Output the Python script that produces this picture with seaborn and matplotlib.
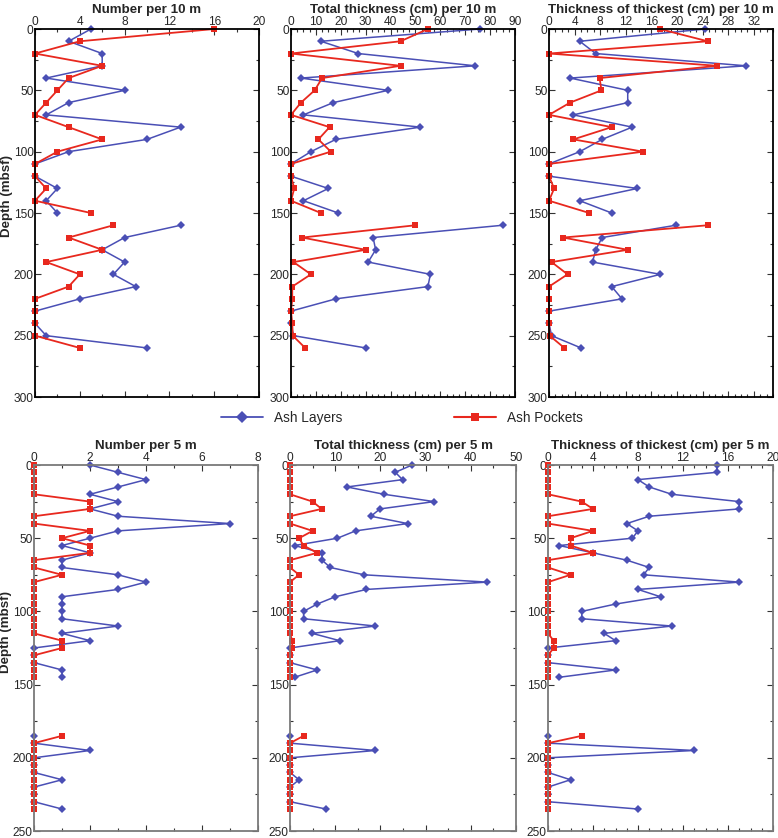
import numpy as np
import pandas as pd
import seaborn as sns
import matplotlib.pyplot as plt
from matplotlib.lines import Line2D
from matplotlib.ticker import MultipleLocator

# depth intervals (mbsf)
depth_10m = list(range(0, 261, 10))
depth_5m = list(range(0, 146, 5)) + list(range(185, 236, 5))

# ---- per 10 m ----
num10_layers = [5, 3, 6, 6, 1, 8, 3, 1, 13, 10, 3, 0, 0, 2, 1, 2, 13, 8, 6, 8, 7, 9, 4, 0, 0, 1, 10]
num10_pockets = [16, 4, 0, 6, 3, 2, 1, 0, 3, 6, 2, 0, 0, 1, 0, 5, 7, 3, 6, 1, 4, 3, 0, 0, 0, 0, 4]
tot10_layers = [76, 12, 27, 74, 4, 39, 17, 5, 52, 18, 8, 0, 0, 15, 5, 19, 85, 33, 34, 31, 56, 55, 18, 0, 0, 1, 30]
tot10_pockets = [55, 44, 0, 44, 12.5, 9.5, 4, 0, 15.5, 11, 16, 0, 0, 1.3, 0, 12, 50, 4.5, 30, 1, 8, 0.5, 0.5, 0, 0.5, 0.7, 5.7]
thick10_layers = [24.4, 4.8, 7.3, 30.8, 3.3, 12.3, 12.3, 3.8, 13, 8.3, 4.8, 0, 0, 13.8, 4.8, 9.8, 19.8, 8.3, 7.3, 6.8, 17.4, 9.8, 11.4, 0, 0, 0.4, 5]
thick10_pockets = [17.3, 24.8, 0, 26.3, 7.9, 8.2, 3.3, 0, 9.8, 3.8, 14.7, 0, 0, 0.8, 0, 6.3, 24.8, 2.2, 12.3, 0.4, 2.9, 0, 0, 0, 0, 0.1, 2.4]

# ---- per 5 m ----
num5_layers = [2, 3, 4, 3, 2, 3, 2, 3, 7, 3, 2, 1, 2, 1, 1, 3, 4, 3, 1, 1, 1, 1, 3, 1, 2, 0, 0, 0, 1, 1,
               0, 0, 2, 0, 0, 0, 1, 0, 0, 0, 1]
num5_pockets = [0, 0, 0, 0, 0, 2, 2, 0, 0, 2, 1, 2, 2, 0, 0, 1, 0, 0, 0, 0, 0, 0, 0, 0, 1, 1, 0, 0, 0, 0,
                1, 0, 0, 0, 0, 0, 0, 0, 0, 0, 0]
tot5_layers = [27, 23.3, 24.9, 12.6, 20.8, 31.9, 19.9, 17.9, 26, 14.5, 10.5, 1, 7.1, 7.1, 8.9, 16.4, 43.6, 16.9,
               10, 6, 3, 3, 18.9, 4.9, 11, 0, 0, 0, 6, 1,
               0, 0, 18.9, 0, 0, 0, 2, 0, 0, 0, 8]
tot5_pockets = [0, 0, 0, 0, 0, 5, 7, 0, 0, 5, 2, 3, 6, 0, 0, 2, 0, 0, 0, 0, 0, 0, 0, 0, 0.5, 0.5, 0, 0, 0, 0,
                3, 0, 0, 0, 0, 0, 0, 0, 0, 0, 0]
thick5_layers = [15, 15, 8, 9, 11, 17, 17, 9, 7, 8, 7.5, 1, 4, 7, 9, 8.5, 17, 8, 10, 6, 3, 3, 11, 5, 6, 0, 0, 0, 6, 1,
                 0, 0, 13, 0, 0, 0, 2, 0, 0, 0, 8]
thick5_pockets = [0, 0, 0, 0, 0, 3, 4, 0, 0, 4, 2, 2, 4, 0, 0, 2, 0, 0, 0, 0, 0, 0, 0, 0, 0.5, 0.5, 0, 0, 0, 0,
                  3, 0, 0, 0, 0, 0, 0, 0, 0, 0, 0]

blue = "#4a4fb5"
red = "#e8281e"

sns.set_style("ticks")
plt.rcParams["font.family"] = ["Liberation Sans", "DejaVu Sans"]

fig = plt.figure(figsize=(7.78, 8.38), dpi=100)
W, H = 778, 838


def add_panel(left, top, width, height):
    return fig.add_axes([left / W, 1 - (top + height) / H, width / W, height / H])


def draw(ax, depth, layers, pockets, title, xmax, xmajor, xminor, ymax, spine_col, ylabel=False):
    seg = [0 if d < 160 else 1 for d in depth]
    df = pd.DataFrame({"depth": depth, "layers": layers, "pockets": pockets, "seg": seg})
    sns.lineplot(data=df, x="layers", y="depth", units="seg", estimator=None, sort=False, orient="y",
                 color=blue, marker="D", markersize=4.5, markeredgewidth=0, linewidth=1.1,
                 legend=False, ax=ax, clip_on=False)
    sns.lineplot(data=df, x="pockets", y="depth", units="seg", estimator=None, sort=False, orient="y",
                 color=red, marker="s", markersize=4.3, markeredgewidth=0, linewidth=1.3,
                 legend=False, ax=ax, clip_on=False)
    ax.set_xlim(0, xmax)
    ax.set_ylim(ymax, 0)
    ax.xaxis.set_major_locator(MultipleLocator(xmajor))
    ax.xaxis.set_minor_locator(MultipleLocator(xminor))
    ax.yaxis.set_major_locator(MultipleLocator(50))
    ax.yaxis.set_minor_locator(MultipleLocator(25))
    ax.tick_params(which="both", direction="in", top=True, bottom=True, left=True, right=True,
                   labeltop=True, labelbottom=False, labelsize=8.6, pad=1, width=0.8, color="#333333")
    ax.tick_params(which="major", length=4)
    ax.tick_params(which="minor", length=2.5)
    for sp in ax.spines.values():
        sp.set_color(spine_col)
        sp.set_linewidth(1.3)
    ax.set_xlabel("")
    if ylabel:
        ax.set_ylabel("Depth (mbsf)", fontsize=9.6, fontweight="bold")
        ax.yaxis.set_label_coords(-0.097, 0.545)
    else:
        ax.set_ylabel("")
    ax.set_title(title, fontsize=9.6, fontweight="bold", pad=1.5)


lefts = [35, 291, 549]
wid = 224

ax1 = add_panel(lefts[0], 29, wid, 368)
ax2 = add_panel(lefts[1], 29, wid, 368)
ax3 = add_panel(lefts[2], 29, wid, 368)
draw(ax1, depth_10m, num10_layers, num10_pockets, "Number per 10 m", 20, 4, 2, 300, "black", ylabel=True)
draw(ax2, depth_10m, tot10_layers, tot10_pockets, "Total thickness (cm) per 10 m", 90, 10, 2.5, 300, "black")
draw(ax3, depth_10m, thick10_layers, thick10_pockets, "Thickness of thickest (cm) per 10 m", 35, 4, 1, 300, "black")

ax4 = add_panel(lefts[0] - 1, 465, wid, 366)
ax5 = add_panel(lefts[1] - 1, 465, wid + 2, 366)
ax6 = add_panel(lefts[2] - 1, 465, wid + 1, 366)
draw(ax4, depth_5m, num5_layers, num5_pockets, "Number per 5 m", 8, 2, 1, 250, "#7a7a7a", ylabel=True)
draw(ax5, depth_5m, tot5_layers, tot5_pockets, "Total thickness (cm) per 5 m", 50, 10, 5, 250, "#7a7a7a")
draw(ax6, depth_5m, thick5_layers, thick5_pockets, "Thickness of thickest (cm) per 5 m", 20, 4, 1, 250, "#7a7a7a")

handles = [
    Line2D([], [], color=blue, marker="D", markersize=6, markeredgewidth=0, linewidth=1.3, label="Ash Layers"),
    Line2D([], [], color=red, marker="s", markersize=6, markeredgewidth=0, linewidth=1.5, label="Ash Pockets"),
]
fig.legend(handles=handles, loc="center", bbox_to_anchor=(402 / W, 1 - 418 / H), ncol=2, frameon=False,
           fontsize=9.8, handlelength=3.1, handletextpad=0.8, columnspacing=8.2)

fig.savefig("out.png", dpi=100)
